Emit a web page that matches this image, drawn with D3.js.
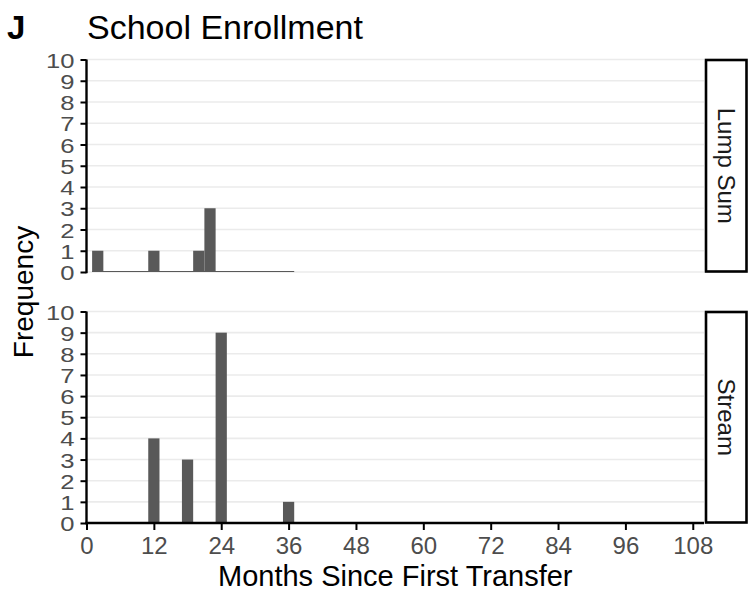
<!DOCTYPE html>
<html>
<head>
<meta charset="utf-8">
<script src="https://cdn.jsdelivr.net/npm/d3@7"></script>
<style>
  html, body { margin: 0; padding: 0; background: #fff; }
  svg { display: block; }
  text { font-family: "Liberation Sans", Arial, sans-serif; }
</style>
</head>
<body>
<svg id="chart" width="748" height="591"></svg>
<script>
// Histogram of months since first transfer, split by transfer type
const panels = ["Lump Sum", "Stream"];
const lumpSumMonths = [2, 12, 20, 22];
const lumpSumCounts = [1, 1, 1, 3];
const streamMonths = [12, 18, 24, 36];
const streamCounts = [4, 3, 9, 1];
const binWidth = 2;
const xTicks = [0, 12, 24, 36, 48, 60, 72, 84, 96, 108];
const yTicks = [0, 1, 2, 3, 4, 5, 6, 7, 8, 9, 10];

const series = [
  { name: panels[0], months: lumpSumMonths, counts: lumpSumCounts },
  { name: panels[1], months: streamMonths, counts: streamCounts }
];

const svg = d3.select("#chart");
const left = 86.5, right = 704;
const panelBoxes = [ { top: 59.5, bottom: 272 }, { top: 311.5, bottom: 523 } ];

const x = d3.scaleLinear().domain([0, 110]).range([left, right]);

// overall bin range across both panels (zero-count bins are drawn flat)
const allMonths = lumpSumMonths.concat(streamMonths);
const binMin = d3.min(allMonths) - binWidth / 2;
const binMax = d3.max(allMonths) + binWidth / 2;

const barColor = "#595959";
const gridColor = "#ebebeb";
const tickText = "#4d4d4d";

// Title
svg.append("text").attr("x", 7).attr("y", 39)
  .attr("font-size", 33).attr("font-weight", "bold").attr("fill", "#000").text("J");
svg.append("text").attr("x", 87).attr("y", 39)
  .attr("font-size", 34).attr("fill", "#000")
  .text("School Enrollment");

series.forEach((s, i) => {
  const box = panelBoxes[i];
  const y = d3.scaleLinear().domain([0, 10]).range([box.bottom, box.top]);
  const g = svg.append("g");

  // horizontal grid
  g.selectAll("line.grid").data(yTicks).join("line")
    .attr("x1", left).attr("x2", right)
    .attr("y1", d => y(d)).attr("y2", d => y(d))
    .attr("stroke", gridColor).attr("stroke-width", 1.6);

  // flat baseline for empty bins
  g.append("line")
    .attr("x1", x(binMin)).attr("x2", x(binMax))
    .attr("y1", y(0) - 0.5).attr("y2", y(0) - 0.5)
    .attr("stroke", barColor).attr("stroke-width", 1);

  // bars
  const bars = s.months.map((m, k) => ({ m, c: s.counts[k] }));
  g.selectAll("rect.bar").data(bars).join("rect")
    .attr("x", d => x(d.m - binWidth / 2))
    .attr("width", d => x(d.m + binWidth / 2) - x(d.m - binWidth / 2))
    .attr("y", d => y(d.c))
    .attr("height", d => y(0) - y(d.c))
    .attr("fill", barColor);

  // y axis; labels are set slightly squat so the dense rows stay apart
  const yAxis = d3.axisLeft(y).tickValues(yTicks).tickSize(6).tickPadding(6).tickFormat(d3.format("d"));
  const ya = svg.append("g").attr("transform", `translate(${left},0)`).call(yAxis);
  ya.select(".domain").attr("stroke", "#000").attr("stroke-width", 2.4)
    .attr("d", `M0,${box.bottom + 1.2}V${box.top}`);
  ya.selectAll(".tick line").attr("stroke", "#000").attr("stroke-width", 2);
  ya.selectAll(".tick text")
    .attr("font-size", 21).attr("fill", tickText)
    .attr("font-family", "Liberation Sans, Arial, sans-serif")
    .attr("dy", "0.36em")
    .attr("transform", function () {
      const tx = +d3.select(this).attr("x");
      d3.select(this).attr("x", 0);
      return `translate(${tx},0) scale(1.22,1)`;
    });

  // facet strip
  svg.append("rect")
    .attr("x", 706).attr("y", box.top + 0.5)
    .attr("width", 40.5).attr("height", box.bottom - box.top - 1)
    .attr("fill", "#fff").attr("stroke", "#000").attr("stroke-width", 2.6);
  const cy = (box.top + box.bottom) / 2;
  svg.append("text")
    .attr("transform", `translate(726.5,${cy}) rotate(90)`)
    .attr("text-anchor", "middle").attr("dy", "0.36em")
    .attr("font-size", 24).attr("fill", "#1a1a1a")
    .text(s.name);

  // x axis only under the bottom panel
  if (i === series.length - 1) {
    const xAxis = d3.axisBottom(x).tickValues(xTicks).tickSize(7).tickPadding(7);
    const xa = svg.append("g").attr("transform", `translate(0,${box.bottom})`).call(xAxis);
    xa.select(".domain").attr("stroke", "#000").attr("stroke-width", 2.4)
      .attr("d", `M${left - 1.2},0H${right}`);
    xa.selectAll(".tick line").attr("stroke", "#000").attr("stroke-width", 2);
    xa.selectAll(".tick text")
      .attr("font-size", 24).attr("fill", tickText)
      .attr("font-family", "Liberation Sans, Arial, sans-serif");
  }
});

// Axis titles
svg.append("text")
  .attr("x", (left + right) / 2).attr("y", 586)
  .attr("text-anchor", "middle").attr("font-size", 29).attr("fill", "#000")
  .text("Months Since First Transfer");

svg.append("text")
  .attr("transform", "translate(33,292) rotate(-90)")
  .attr("text-anchor", "middle").attr("font-size", 28).attr("fill", "#000")
  .text("Frequency");
</script>
</body>
</html>
